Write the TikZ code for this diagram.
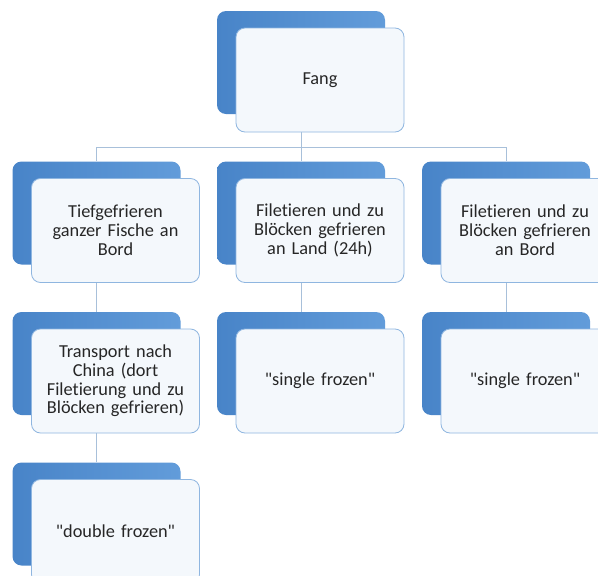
\documentclass[tikz,border=0pt]{standalone}
\usepackage{fontspec}
\setmainfont{Carlito}[Ligatures={NoCommon}]
\usetikzlibrary{backgrounds}

\definecolor{backdark}{RGB}{72,132,200}
\definecolor{backlight}{RGB}{98,156,218}
\definecolor{frontfill}{RGB}{244,248,252}
\definecolor{frontline}{RGB}{143,182,224}
\definecolor{linkline}{RGB}{168,192,218}

\tikzset{
  backbox/.style={rounded corners=9pt, minimum width=168pt, minimum height=103pt,
    left color=backdark, right color=backlight, inner sep=0pt},
  frontbox/.style={rounded corners=9pt, minimum width=168pt, minimum height=104pt,
    fill=frontfill, draw=frontline, line width=0.8pt, inner sep=0pt,
    text width=160pt, align=center, text=black!85,
    font=\fontsize{18.3}{18.8}\selectfont},
  link/.style={draw=linkline, line width=0.9pt}
}

% blue card behind a white card holding the text
\newcommand{\smartbox}[4]{%
  \node[backbox] (#1b) at (#2,#3) {};
  \node[frontbox] (#1) at (#2+19,#3+17.5) {#4};
}

\begin{document}
\begin{tikzpicture}[x=1pt,y=-1pt]
  \clip (0,0) rectangle (598,576);

  \smartbox{fang}{301}{62.5}{Fang}
  \smartbox{tief}{96.5}{213}{Tiefgefrieren\\ganzer Fische an\\Bord}
  \smartbox{land}{301}{213}{Filetieren und zu\\Blöcken gefrieren\\an Land (24h)}
  \smartbox{bord}{506}{213}{Filetieren und zu\\Blöcken gefrieren\\an Bord}
  \smartbox{trans}{96.5}{363.5}{Transport nach\\China (dort\\Filetierung und zu\\Blöcken gefrieren)}
  \smartbox{singleA}{301}{363.5}{\textquotedbl single frozen\textquotedbl}
  \smartbox{singleB}{506}{363.5}{\textquotedbl single frozen\textquotedbl}
  \smartbox{double}{96.5}{514}{\textquotedbl double frozen\textquotedbl}

  \begin{pgfonlayer}{background}
    \fill[white] (0,0) rectangle (598,576);
    \coordinate (hub) at (301,147);
    \draw[link] (fangb.south) -- (hub);
    \draw[link] (hub) -| (tiefb.north);
    \draw[link] (hub) -- (landb.north);
    \draw[link] (hub) -| (bordb.north);
    \draw[link] (tiefb.south) -- (transb.north);
    \draw[link] (landb.south) -- (singleAb.north);
    \draw[link] (bordb.south) -- (singleBb.north);
    \draw[link] (transb.south) -- (doubleb.north);
  \end{pgfonlayer}
\end{tikzpicture}
\end{document}
